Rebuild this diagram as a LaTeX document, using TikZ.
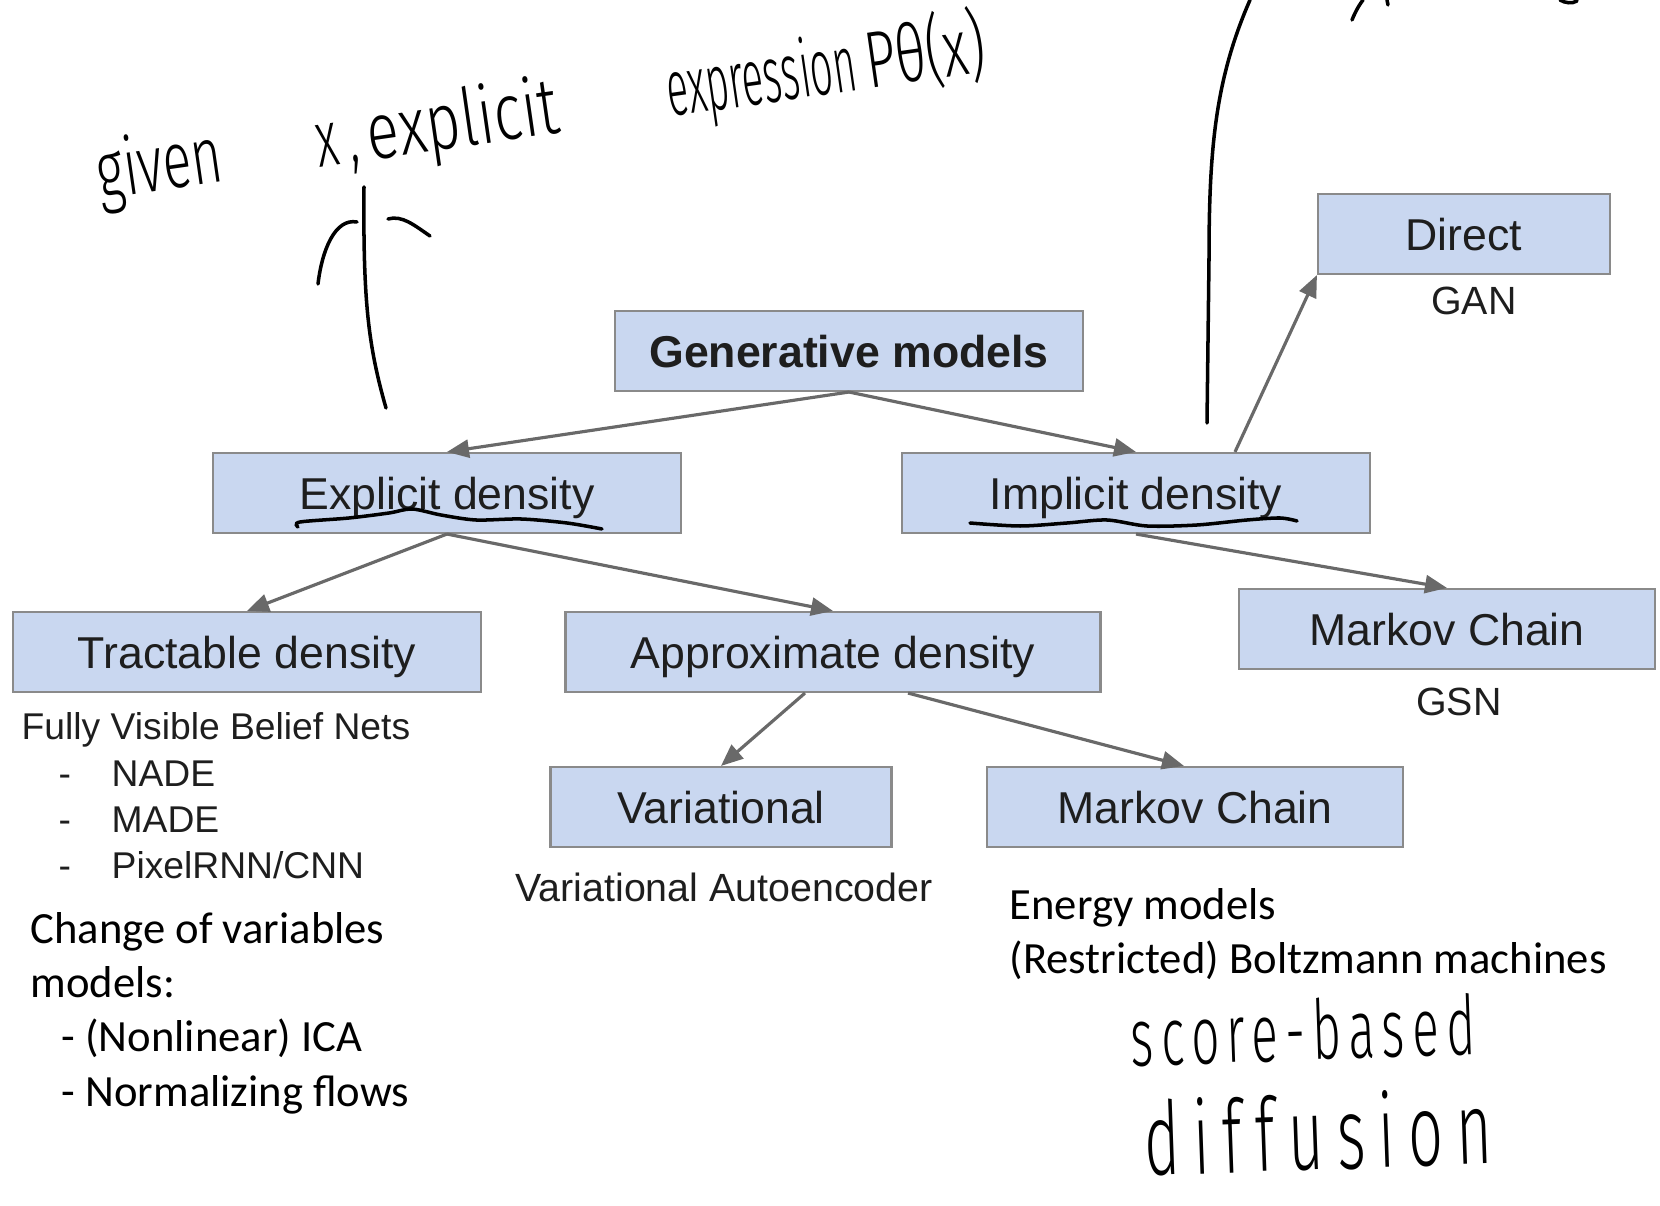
\documentclass[tikz,border=0pt]{standalone}
\usepackage{fontspec}
\usepackage{graphicx}
\setmainfont{Liberation Sans}
\newfontfamily\calfont{Carlito}
\newfontfamily\handfont[FakeStretch=0.6]{Fira Sans Light}
\usetikzlibrary{arrows.meta,positioning}
\definecolor{boxfill}{RGB}{201,215,240}
\definecolor{boxline}{RGB}{138,138,138}
\definecolor{arrgray}{RGB}{105,105,105}
\definecolor{inkgray}{RGB}{30,30,30}
\tikzset{
  catbox/.style={draw=boxline, line width=0.6pt, fill=boxfill, minimum height=8mm, inner sep=0pt, text depth=0pt, text=inkgray, font=\fontsize{12.7}{15}\selectfont},
  sublabel/.style={text=inkgray, font=\fontsize{11.2}{13}\selectfont, inner sep=0pt},
  notes/.style={align=left, anchor=north west, inner sep=0pt, font=\calfont\fontsize{12.7}{15.4}\selectfont},
  arr/.style={-{Triangle[length=2.2mm,width=1.8mm]}, draw=arrgray, line width=0.9pt},
  ink/.style={line width=1pt, line cap=round, black},
  hand/.style={inner sep=0pt}
}
\begin{document}
\begin{tikzpicture}[x=0.1mm, y=-0.1mm]
    \useasboundingbox (0,0) rectangle (1660,1206);
    % the tree
    \node[catbox, minimum width=46.8mm, font=\bfseries\fontsize{12.7}{15}\selectfont] (gen) at (849,351) {Generative models};
    \node[catbox, minimum width=46.8mm] (expl) at (447,493) {Explicit density};
    \node[catbox, minimum width=46.8mm] (impl) at (1136,493) {Implicit density};
    \node[catbox, minimum width=29.2mm] (direct) at (1464,234) {Direct};
    \node[catbox, minimum width=46.8mm] (tract) at (247,652) {Tractable density};
    \node[catbox, minimum width=53.5mm] (approx) at (833,652) {Approximate density};
    \node[catbox, minimum width=41.6mm] (chainR) at (1447,629) {Markov Chain};
    \node[catbox, minimum width=34.1mm] (vari) at (721,807) {Variational};
    \node[catbox, minimum width=41.6mm] (chainL) at (1195,807) {Markov Chain};
    \draw[arr] (gen.south) -- (expl.north);
    \draw[arr] (gen.south) -- (impl.north);
    \draw[arr] ([xshift=9.9mm]impl.north) -- (direct.south west);
    \draw[arr] (impl.south) -- (chainR.north);
    \draw[arr] (expl.south) -- (tract.north);
    \draw[arr] (expl.south) -- (approx.north);
    \draw[arr] ([xshift=-2.8mm]approx.south) -- (vari.north);
    \draw[arr] ([xshift=7.5mm]approx.south) -- ([xshift=-1.1mm]chainL.north);
    % examples under the boxes
    \node[sublabel] (gan) at (1474,301) {GAN};
    \node[sublabel] (gsn) at (1459,702) {GSN};
    \node[sublabel] (vae) at (724,887) {Variational Autoencoder};
    \node[sublabel, align=left, anchor=north west, font=\fontsize{10.6}{13.2}\selectfont] (fvbn) at (21,712)
        {Fully Visible Belief Nets\\
         \makebox[9mm][l]{\hspace*{3.7mm}-}NADE\\
         \makebox[9mm][l]{\hspace*{3.7mm}-}MADE\\
         \makebox[9mm][l]{\hspace*{3.7mm}-}PixelRNN/CNN};
    \node[notes] (flows) at (30,912)
        {Change of variables\\models:\\
         \hspace*{3.1mm}- (Nonlinear) ICA\\
         \hspace*{3.1mm}- Normalizing flows};
    \node[notes] (energy) at (1009,888) {Energy models\\(Restricted) Boltzmann machines};
    % handwritten notes
    \node[hand, rotate=8.2, font=\handfont\fontsize{22.8}{24}\selectfont] (given) at (541,110)
        {\scalebox{1.11}[1]{given}\hspace{9.5mm}x\hspace{1mm},\hspace{1mm}\scalebox{1.25}[1]{explicit}\hspace{11mm}\scalebox{0.83}[1]{expression}\hspace{1mm}\scalebox{1.12}[1]{Pθ(x)}};
    \node[hand, rotate=2, font=\handfont\fontsize{23.5}{25}\selectfont] (score) at (1303,1030) {\addfontfeature{LetterSpace=9}score-based};
    \node[hand, rotate=2, font=\handfont\fontsize{29}{31}\selectfont] (diff) at (1318,1132) {\addfontfeature{LetterSpace=13}diffusion};
    \draw[ink] (364,187) .. controls (363,300) and (368,345) .. (386,408);
    \draw[ink] (318,284) .. controls (322,250) and (335,218) .. (357,222);
    \draw[ink] (388,219) .. controls (402,215) and (414,225) .. (430,236);
    \draw[ink] (1250,0) .. controls (1215,80) and (1209,150) .. (1209,260) -- (1207,423);
    \draw[ink] (1352,20) .. controls (1356,10) and (1360,4) .. (1363,0);
    \draw[ink] (1387,0) -- (1388,5);
    \draw[ink] (1560,0) .. controls (1565,3) and (1572,4) .. (1577,1);
    \draw[ink] plot[smooth] coordinates {(298,527) (300,522) (349,518) (389,513) (412,509) (441,515) (476,520) (521,519) (567,523) (602,529)};
    \draw[ink] plot[smooth] coordinates {(970,523) (1020,526) (1067,523) (1107,520) (1147,526) (1197,525) (1247,520) (1280,518) (1297,521)};
\end{tikzpicture}
\end{document}
